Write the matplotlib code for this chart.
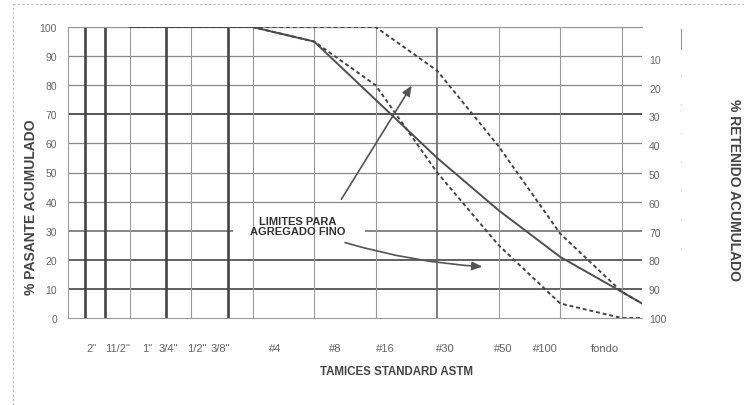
import matplotlib
matplotlib.use("Agg")
import matplotlib.pyplot as plt
from matplotlib.lines import Line2D

plt.rcParams['font.family'] = ['Liberation Sans', 'DejaVu Sans']

# ---- data ----
sieve_labels = ['2"', '11/2"', '1"', '3/4"', '1/2"', '3/8"', '#4', '#8', '#16', '#30', '#50', '#100', 'fondo']
label_pos = [0.39, 0.81, 1.28, 1.63, 2.10, 2.48, 3.37, 4.34, 5.15, 6.13, 7.07, 7.76, 8.73]

heavy_lines = [0.28, 0.60, 1.60, 2.60]
light_lines = [1, 2, 3, 4, 5, 7, 8, 9]
medium_lines = [6]

curve_x = [1, 3, 4, 5, 6, 7, 8, 9, 9.33]
pasante = [100, 100, 95, 75, 55, 37, 21, 9, 5]
limite_inf = [100, 100, 95, 80, 50, 25, 5, 0, 0]
limite_sup = [100, 100, 100, 100, 85, 59, 29, 9, 5]

left_ticks = [0, 10, 20, 30, 40, 50, 60, 70, 80, 90, 100]
right_ticks = [10, 20, 30, 40, 50, 60, 70, 80, 90, 100]

# ---- figure ----
W, H = 744, 406
fig = plt.figure(figsize=(W / 100, H / 100), dpi=100)
ax = fig.add_axes([68 / W, 1 - 319 / H, (642 - 68) / W, (319 - 28) / H])
xmin, xmax = 0, 9.33
ax.set_xlim(xmin, xmax)
ax.set_ylim(0, 100)

# horizontal grid
dark_h = {70: ('#555555', 1.4), 20: ('#555555', 1.3), 10: ('#555555', 1.3), 30: ('#666666', 1.1)}
gap = (2.68, 4.83)
for v in left_ticks[1:]:
    c, lw = dark_h.get(v, ('#8a8a8a', 0.9))
    if v == 30:
        ax.hlines(v, xmin, gap[0], colors=c, lw=lw, zorder=1)
        ax.hlines(v, gap[1], xmax, colors=c, lw=lw, zorder=1)
    else:
        ax.axhline(v, color=c, lw=lw, zorder=1)

# vertical grid
for x in heavy_lines:
    ax.axvline(x, color='#444444', lw=1.9, zorder=1)
for x in medium_lines:
    ax.axvline(x, color='#666666', lw=1.2, zorder=1)
for x in light_lines:
    ax.axvline(x, color='#9a9a9a', lw=0.8, zorder=1)

# curves
ax.plot(curve_x, pasante, color='#505050', lw=1.4, zorder=3)
ax.plot(curve_x, limite_inf, color='#454545', lw=1.4, ls=(0, (2, 1.5)), zorder=3)
ax.plot(curve_x, limite_sup, color='#454545', lw=1.4, ls=(0, (2, 1.5)), zorder=3)

# annotation text + arrows
ax.text(3.74, 31.5, 'LIMITES PARA\nAGREGADO FINO', ha='center', va='center',
        fontsize=8, fontweight='bold', color='#333333', linespacing=1.0, zorder=4)
ax.annotate('', xy=(5.61, 80.7), xytext=(4.42, 40.0),
            arrowprops=dict(arrowstyle='-|>,head_length=0.6,head_width=0.25',
                            color='#555555', lw=1.2), zorder=4)
ax.annotate('', xy=(6.78, 17.6), xytext=(4.46, 26.2),
            arrowprops=dict(arrowstyle='-|>,head_length=0.6,head_width=0.25',
                            color='#555555', lw=1.2,
                            connectionstyle='arc3,rad=0.06'), zorder=4)

# spines
for s in ['left', 'bottom', 'top']:
    ax.spines[s].set_color('#9a9a9a')
    ax.spines[s].set_linewidth(0.8)
ax.spines['right'].set_visible(False)

# ticks
ax.set_xticks(label_pos)
ax.set_xticklabels(sieve_labels)
ax.tick_params(axis='x', length=0, pad=18, labelsize=8, labelcolor='#666666')
ax.set_yticks(left_ticks)
ax.tick_params(axis='y', length=0, pad=8, labelsize=7.5, labelcolor='#666666')

ax2 = ax.twinx()
ax2.set_ylim(99, -1)
ax2.set_yticks(right_ticks)
ax2.tick_params(axis='y', length=0, pad=5, labelsize=7.5, labelcolor='#666666')
for s in ax2.spines.values():
    s.set_visible(False)

# axis titles
fig.text(31 / W, 1 - 207 / H, '% PASANTE ACUMULADO', rotation=90, ha='center', va='center',
         fontsize=10, fontweight='bold', color='#444444')
fig.text(734 / W, 1 - 190 / H, '% RETENIDO ACUMULADO', rotation=270, ha='center', va='center',
         fontsize=10, fontweight='bold', color='#444444')
fig.text(397 / W, 1 - 372 / H, 'TAMICES STANDARD ASTM', ha='center', va='center',
         fontsize=8.3, fontweight='bold', color='#444444')

# page frame decoration
fig.add_artist(Line2D([13 / W, 1], [1 - 5 / H, 1 - 5 / H], color='#bbbbbb', lw=0.8, ls=(0, (2, 2))))
fig.add_artist(Line2D([13 / W, 13 / W], [0, 1 - 5 / H], color='#bbbbbb', lw=0.8, ls=(0, (2, 2))))
fig.add_artist(Line2D([681 / W, 681 / W], [1 - 250 / H, 1 - 30 / H], color='#cccccc', lw=0.8, ls=(0, (1, 25))))
fig.add_artist(Line2D([681 / W, 681 / W], [1 - 50 / H, 1 - 30 / H], color='#999999', lw=0.8))

fig.savefig('out.png', dpi=100, facecolor='white')
